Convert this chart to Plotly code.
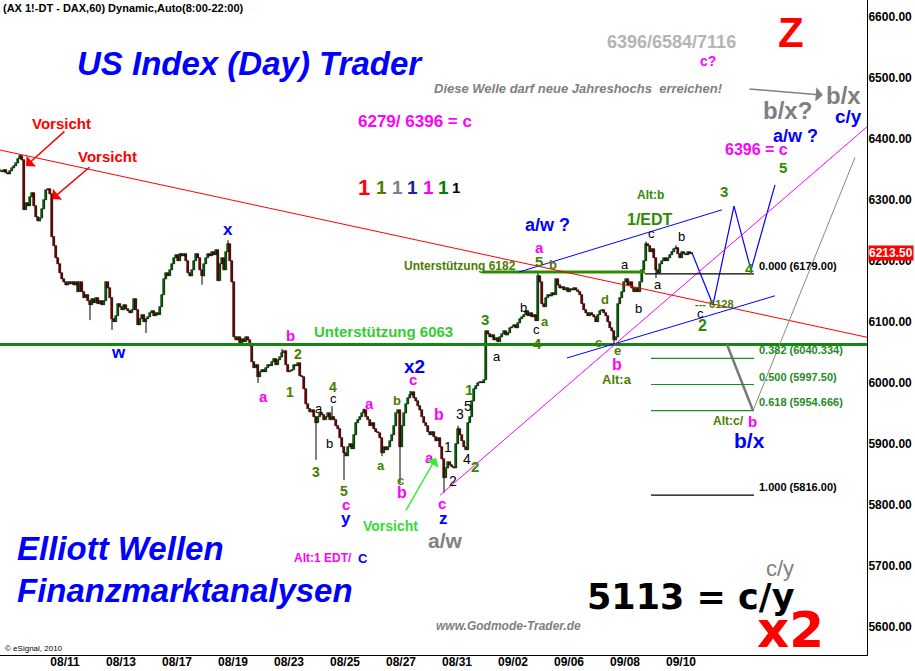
import plotly.graph_objects as go

# ---------------- data ----------------
trading_days = ['08/09', '08/10', '08/11', '08/12', '08/13', '08/16', '08/17', '08/18',
                '08/19', '08/20', '08/23', '08/24', '08/25', '08/26', '08/27', '08/30',
                '08/31', '09/01', '09/02', '09/03', '09/06', '09/07', '09/08', '09/09', '09/10']
bars_per_day = 14  # 8:00-22:00 hourly

# hourly closes per day
c_0809 = [6345, 6348, 6348, 6346, 6350, 6345, 6342, 6348, 6352, 6356, 6360, 6368, 6372, 6365]
c_0810 = [6284, 6295, 6290, 6305, 6312, 6290, 6272, 6265, 6270, 6285, 6300, 6316, 6318, 6310]
c_0811 = [6240, 6225, 6205, 6195, 6180, 6170, 6165, 6160, 6165, 6162, 6166, 6160, 6165, 6150]
c_0812 = [6165, 6150, 6140, 6145, 6135, 6128, 6138, 6132, 6140, 6130, 6135, 6128, 6135, 6165]
c_0813 = [6155, 6140, 6105, 6100, 6110, 6130, 6125, 6120, 6128, 6122, 6118, 6115, 6120, 6138]
c_0816 = [6120, 6095, 6105, 6112, 6100, 6105, 6108, 6115, 6118, 6110, 6115, 6112, 6125, 6145]
c_0817 = [6170, 6180, 6176, 6185, 6195, 6205, 6210, 6200, 6212, 6208, 6212, 6200, 6180, 6175]
c_0818 = [6185, 6200, 6212, 6205, 6185, 6175, 6195, 6205, 6212, 6208, 6215, 6210, 6218, 6168]
c_0819 = [6195, 6205, 6185, 6215, 6228, 6200, 6165, 6075, 6070, 6075, 6066, 6072, 6068, 6075]
c_0820 = [6070, 6060, 6035, 6025, 6030, 6010, 6018, 6022, 6018, 6025, 6030, 6028, 6035, 6040]
c_0823 = [6030, 6038, 6042, 6050, 6052, 6030, 6018, 6020, 6022, 6030, 6028, 6032, 6012, 6010]
c_0824 = [5990, 5965, 5958, 5952, 5955, 5945, 5935, 5945, 5950, 5948, 5940, 5945, 5950, 5940]
c_0825 = [5945, 5940, 5930, 5925, 5910, 5895, 5885, 5880, 5895, 5900, 5892, 5915, 5935, 5940]
c_0826 = [5945, 5950, 5955, 5945, 5940, 5930, 5935, 5925, 5920, 5918, 5910, 5885, 5895, 5890]
c_0827 = [5895, 5905, 5915, 5930, 5950, 5955, 5895, 5930, 5950, 5965, 5975, 5980, 5985, 5975]
c_0830 = [5970, 5962, 5955, 5945, 5935, 5930, 5920, 5915, 5920, 5912, 5905, 5910, 5895, 5875]
c_0831 = [5845, 5860, 5870, 5865, 5862, 5860, 5900, 5925, 5915, 5905, 5895, 5890, 5935, 5945]
c_0901 = [5970, 5990, 5995, 6000, 6002, 6000, 6005, 6085, 6080, 6075, 6078, 6070, 6073, 6068]
c_0902 = [6075, 6080, 6085, 6078, 6082, 6090, 6092, 6095, 6090, 6098, 6105, 6108, 6112, 6118]
c_0903 = [6110, 6115, 6108, 6112, 6102, 6175, 6165, 6130, 6125, 6140, 6145, 6142, 6148, 6145]
c_0906 = [6170, 6160, 6155, 6158, 6152, 6155, 6150, 6154, 6152, 6156, 6152, 6150, 6145, 6130]
c_0907 = [6120, 6115, 6110, 6115, 6112, 6108, 6100, 6112, 6118, 6120, 6115, 6110, 6100, 6090]
c_0908 = [6085, 6070, 6075, 6130, 6140, 6150, 6165, 6170, 6160, 6165, 6155, 6150, 6155, 6150]
c_0909 = [6165, 6185, 6200, 6228, 6225, 6215, 6220, 6205, 6185, 6180, 6195, 6200, 6205, 6200]
c_0910 = [6205, 6210, 6215, 6220, 6222, 6212, 6205, 6215, 6212, 6210, 6215, 6212, 6213.5]

first_open = 6342
# notable wick extremes (bar index -> price)
wick_high = {12: 6375, 116: 6234, 143: 6056, 168: 5962, 184: 5958, 207: 5987,
             231: 5930, 271: 6183, 325: 6232, 340: 6226}
wick_low = {47: 6103, 58: 6087, 75: 6082, 103: 6161, 131: 6000, 160: 5874, 174: 5841,
            193: 5880, 202: 5836, 224: 5820, 309: 6063, 330: 6172}

last_price = 6213.50
support_low = 6063
support_high = 6182
fib_levels = [(0.000, 6179.00), (0.382, 6040.334), (0.500, 5997.50), (0.618, 5954.666), (1.000, 5816.00)]
fib_texts = ['0.000 (6179.00)', '0.382 (6040.334)', '0.500 (5997.50)', '0.618 (5954.666)', '1.000 (5816.00)']
price_ticks = [5600, 5700, 5800, 5900, 6000, 6100, 6200, 6300, 6400, 6500, 6600]

# trend / projection lines in (bar index, price)
red_trend = [(2, 6382), (435.5, 6075)]
blue_upper = [(261.5, 6182), (363, 6284)]
blue_lower = [(285.5, 6041), (389.5, 6143)]
blue_path = [(348, 6213.5), (358.5, 6128), (369, 6290), (377.5, 6185), (389.5, 6325)]
pink_trend = [(222, 5816), (435.5, 6420)]
gray_path_thick = [(365.5, 6063), (378.5, 5954.666)]
gray_path_thin = [(378.5, 5954.666), (429.5, 6370)]

# ---------------- build OHLC ----------------
closes = (c_0809 + c_0810 + c_0811 + c_0812 + c_0813 + c_0816 + c_0817 + c_0818 + c_0819 +
          c_0820 + c_0823 + c_0824 + c_0825 + c_0826 + c_0827 + c_0830 + c_0831 + c_0901 +
          c_0902 + c_0903 + c_0906 + c_0907 + c_0908 + c_0909 + c_0910)
opens = [first_open] + closes[:-1]
highs = [max(o, c) for o, c in zip(opens, closes)]
lows = [min(o, c) for o, c in zip(opens, closes)]
for k, v in wick_high.items():
    highs[k] = max(highs[k], v)
for k, v in wick_low.items():
    lows[k] = min(lows[k], v)
idx = list(range(len(closes)))

W, H = 915, 671
ML, MR, MT, MB = 0, 48, 0, 16
PW, PH = W - ML - MR, H - MT - MB
X0, X1 = 2, 435.5
Y0, Y1 = 5554, 6628

fig = go.Figure()
# wicks
wx, wy = [], []
for i, h, l in zip(idx, highs, lows):
    wx += [i, i, None]
    wy += [l, h, None]
fig.add_trace(go.Scatter(x=wx, y=wy, mode='lines', line=dict(color='black', width=1),
                         hoverinfo='skip', showlegend=False))
# bodies
body_base = [min(o, c) for o, c in zip(opens, closes)]
body_len = [max(abs(c - o), 1.2) for o, c in zip(opens, closes)]
body_col = ['#00e000' if c >= o else '#ff0000' for o, c in zip(opens, closes)]
fig.add_trace(go.Bar(x=idx, y=body_len, base=body_base, width=1.3,
                     marker=dict(color=body_col, line=dict(color='black', width=0.6)),
                     hoverinfo='skip', showlegend=False))

shapes = []
def seg(p, q, color, width, dash='solid'):
    shapes.append(dict(type='line', xref='x', yref='y', x0=p[0], y0=p[1], x1=q[0], y1=q[1],
                       line=dict(color=color, width=width, dash=dash), layer='above'))

seg((X0, support_low), (X1, support_low), '#118811', 3)
seg((243, support_high), (324.5, support_high), '#2e8b00', 3)
seg(*red_trend, '#ff0000', 1)
seg(*blue_upper, '#0000ff', 1)
seg(*blue_lower, '#0000ff', 1)
for a, b in zip(blue_path[:-1], blue_path[1:]):
    seg(a, b, '#0000ff', 1.2)
seg(*pink_trend, '#ff00ff', 1)
seg(*gray_path_thick, '#777777', 2.5)
seg(*gray_path_thin, '#888888', 1)
for (r, v), t in zip(fib_levels, fib_texts):
    col = 'black' if r in (0.0, 1.0) else '#1e8c1e'
    x_start = 324.5 if r == 0.0 else 327.5
    seg((x_start, v), (379, v), col, 1.2)

ann = []
def px2paper(px, py):
    return px / PW, 1 - py / PH

def txt(t, px, py, color, size, bold=True, italic=False, anchor='center', family='Liberation Sans'):
    x, y = px2paper(px, py)
    s = t
    if italic:
        s = '<i>' + s + '</i>'
    if bold:
        s = '<b>' + s + '</b>'
    ann.append(dict(text=s, x=x, y=y, xref='paper', yref='paper', showarrow=False,
                    xanchor=anchor, yanchor='middle',
                    font=dict(family=family, size=size, color=color)))

BLUE, PINK, OLV, GRN, GRAY = '#0000ff', '#ff00ff', '#4a7c00', '#2e8b00', '#808080'

txt('(AX 1!-DT - DAX,60) Dynamic,Auto(8:00-22:00)', 1, 8, 'black', 11, anchor='left')
txt('US Index (Day) Trader', 250, 63, BLUE, 33, italic=True)
txt('6396/6584/7116', 671, 42, '#b4b4b4', 18)
txt('Z', 791, 33, '#ff0000', 42)
txt('c?', 708, 61, PINK, 14)
txt('Diese Welle darf neue Jahreshochs  erreichen!', 578, 89, GRAY, 13, italic=True)
txt('b/x', 843, 96, GRAY, 24)
txt('b/x?', 787, 110, GRAY, 24)
txt('c/y', 848, 117, BLUE, 19)
txt('a/w ?', 795, 136, BLUE, 18)
txt('6396 = c', 756, 150, PINK, 16)
txt('5', 783, 167, GRN, 15)
txt('3', 724, 191, GRN, 15)
txt('Alt:b', 650, 195, GRN, 12)
txt('1/EDT', 650, 219, GRN, 16)
txt('c', 651, 233, 'black', 13, bold=False)
txt('b', 681, 237, 'black', 13, bold=False)
txt('a/w ?', 547, 225, BLUE, 18)
txt('a', 539, 247, PINK, 15)
txt('5', 539, 261, OLV, 15)
txt('b', 553, 264, OLV, 13)
txt('Unterstützung 6182', 460, 266, OLV, 12)
txt('6279/ 6396 = c', 415, 121, PINK, 17)
txt('a', 625, 264, 'black', 13, bold=False)
txt('a', 658, 285, 'black', 13, bold=False)
txt('b', 638, 308, 'black', 13, bold=False)
txt('c', 700, 313, 'black', 13, bold=False)
txt('2', 702, 325, GRN, 16)
txt('4', 749, 268, GRN, 15)
txt('--- 6128', 693, 304, OLV, 11, anchor='left')
txt('d', 605, 299, OLV, 13)
txt('c', 598, 342, OLV, 13)
txt('e', 617, 350, OLV, 13)
txt('b', 617, 364, PINK, 16)
txt('Alt:a', 617, 379, OLV, 13)
fib_y = [266, 350, 377, 402, 487]
for (r, v), t, fy in zip(fib_levels, fib_texts, fib_y):
    txt(t, 757, fy, 'black' if r in (0.0, 1.0) else '#1e8c1e', 11, anchor='left')
txt('Alt:c/', 728, 421, OLV, 12)
txt('b', 752, 421, PINK, 15)
txt('b/x', 749, 440, BLUE, 21)
txt('3', 485, 320, GRN, 15)
txt('a', 497, 356, 'black', 13, bold=False)
txt('b', 523, 307, 'black', 13, bold=False)
txt('c', 536, 330, 'black', 13, bold=False)
txt('4', 537, 343, OLV, 15)
txt('a', 545, 321, OLV, 13)
txt('1', 469, 389, GRN, 15)
txt('5', 468, 406, 'black', 14, bold=False)
txt('3', 460, 414, 'black', 14, bold=False)
txt('4', 467, 459, 'black', 14, bold=False)
txt('2', 475, 466, GRN, 15)
txt('1', 448, 447, 'black', 14, bold=False)
txt('2', 453, 481, 'black', 14, bold=False)
txt('c', 442, 503, PINK, 15)
txt('z', 443, 518, BLUE, 17)
txt('a/w', 446, 540, GRAY, 21)
txt('Vorsicht', 390, 526, '#33dd33', 14)
txt('Alt:1 EDT/', 354, 558, PINK, 12, anchor='right')
txt('C', 363, 558, BLUE, 13)
txt('Elliott Wellen', 15, 548, BLUE, 33, italic=True, anchor='left')
txt('Finanzmarktanalysen', 15, 590, BLUE, 33, italic=True, anchor='left')
txt('www.Godmode-Trader.de', 509, 626, GRAY, 12, italic=True)
txt('c/y', 780, 568, GRAY, 22, bold=False)
txt('5113 = c/y', 797, 597, 'black', 35, anchor='right', family='DejaVu Sans')
txt('x2', 790, 630, '#ff0000', 50, family='DejaVu Sans')
txt('© eSignal, 2010', 3, 648, 'black', 8, bold=False, anchor='left')
txt('Vorsicht', 61, 123, '#ff0000', 15)
txt('Vorsicht', 107, 156, '#ff0000', 15)
for px, col, sz in [(364, '#ff0000', 22), (381, '#4a7c00', 19), (397, '#808080', 19),
                    (412, '#2020a0', 19), (428, '#ff00ff', 19), (443, '#008000', 19), (456, 'black', 15)]:
    txt('1', px, 187, col, sz)
txt('x', 228, 229, BLUE, 17)
txt('w', 118, 352, BLUE, 17)
txt('b', 290, 335, PINK, 15)
txt('2', 298, 354, OLV, 14)
txt('a', 263, 396, PINK, 15)
txt('1', 290, 392, OLV, 14)
txt('Unterstützung 6063', 383, 331, '#33cc33', 15)
txt('4', 333, 387, OLV, 14)
txt('c', 333, 399, 'black', 13, bold=False)
txt('a', 319, 408, 'black', 13, bold=False)
txt('b', 329, 444, 'black', 13, bold=False)
txt('3', 316, 472, OLV, 14)
txt('5', 344, 491, OLV, 14)
txt('c', 346, 504, PINK, 15)
txt('y', 346, 518, BLUE, 17)
txt('a', 369, 403, PINK, 15)
txt('a', 381, 465, OLV, 13)
txt('b', 397, 400, OLV, 13)
txt('c', 400, 480, OLV, 13)
txt('b', 402, 492, PINK, 16)
txt('x2', 414, 366, BLUE, 19)
txt('c', 413, 379, PINK, 15)
txt('b', 439, 415, PINK, 16)
txt('a', 429, 457, PINK, 15)

def arrow(tip, tail, color, width=1.5):
    x, y = px2paper(*tip)
    ann.append(dict(x=x, y=y, xref='paper', yref='paper', text='', showarrow=True,
                    ax=tail[0] - tip[0], ay=tail[1] - tip[1], arrowhead=1, arrowsize=1.6,
                    arrowwidth=width, arrowcolor=color))

arrow((26, 166), (66, 130), '#ff0000')
arrow((52, 199), (91, 166), '#ff0000')
arrow((436, 458), (405, 512), '#33ee33')
arrow((823, 95), (748, 89), '#808080')

ann.append(dict(text='<b>%.2f</b>' % last_price, x=1.0, y=last_price, xref='paper', yref='y',
                xanchor='left', yanchor='middle', showarrow=False, bgcolor='#ff0000',
                font=dict(family='Liberation Sans', size=12, color='white'), borderpad=0, xshift=1))

tickvals_x = [bars_per_day * d + 6.5 for d in range(len(trading_days)) if d % 2 == 0 and d > 0]
ticktext_x = ['<b>' + trading_days[d] + '</b>' for d in range(len(trading_days)) if d % 2 == 0 and d > 0]

fig.update_layout(
    width=W, height=H, margin=dict(l=ML, r=MR, t=MT, b=MB),
    paper_bgcolor='white', plot_bgcolor='white', showlegend=False,
    shapes=shapes, annotations=ann, bargap=0,
    xaxis=dict(range=[X0, X1], tickvals=tickvals_x, ticktext=ticktext_x, showgrid=False,
               zeroline=False, showline=True, linecolor='black', linewidth=1, ticks='',
               ticklabelstandoff=-4,
               tickfont=dict(family='Liberation Sans Narrow, Liberation Sans', size=12, color='black'),
               fixedrange=True),
    yaxis=dict(range=[Y0, Y1], side='right', tickvals=price_ticks,
               ticktext=['<b>%.2f</b>' % v for v in price_ticks], showgrid=False, zeroline=False,
               showline=True, linecolor='black', linewidth=1, ticks='', ticklabelstandoff=-2,
               tickfont=dict(family='Liberation Sans', size=12, color='black'), fixedrange=True),
)

fig.write_html('out.html', config={'displayModeBar': False},
               post_script="document.body.style.margin='0px';")
